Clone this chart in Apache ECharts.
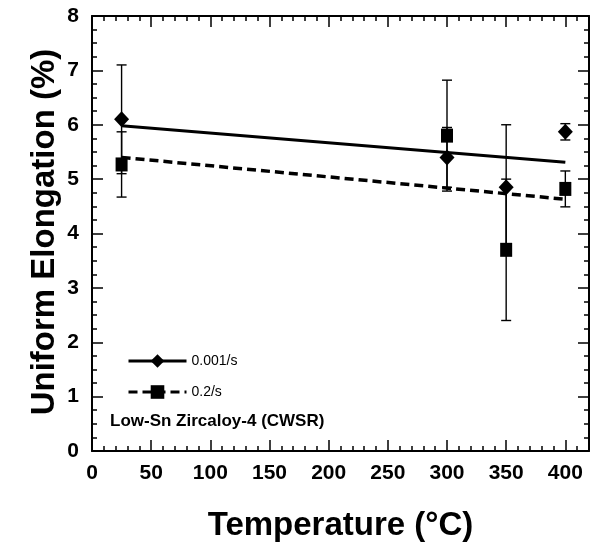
<!DOCTYPE html>
<html>
<head>
<meta charset="utf-8">
<script src="https://cdn.jsdelivr.net/npm/echarts@6/dist/echarts.min.js"></script>
<style>
  html, body { margin: 0; padding: 0; background: #fff; }
  #chart { width: 592px; height: 547px; }
</style>
</head>
<body>
<div id="chart"></div>
<script>
// ---- Data ----
const tempsSlow = [25, 300, 350, 400];          // °C, strain rate 0.001/s
const ueSlow    = [6.1, 5.4, 4.85, 5.87];       // uniform elongation (%)
const errSlow   = [1.0, 0.55, 1.15, 0.15];      // +/- error

const tempsFast = [25, 300, 350, 400];          // °C, strain rate 0.2/s
const ueFast    = [5.27, 5.8, 3.7, 4.82];
const errFast   = [0.6, 1.02, 1.3, 0.33];

const fitTemps  = [25, 400];                     // fitted trend lines
const fitSlow   = [5.98, 5.31];
const fitFast   = [5.4, 4.63];

const seriesNames = ['0.001/s', '0.2/s'];
const xTitle = 'Temperature (°C)';
const yTitle = 'Uniform Elongation (%)';
const note = 'Low-Sn Zircaloy-4 (CWSR)';

const FONT = '"Liberation Sans", Arial, Helvetica, sans-serif';

const zip2 = (a, b) => a.map((v, i) => [v, b[i]]);
const zip3 = (a, b, c) => a.map((v, i) => [v, b[i], c[i]]);

function errorBarRender(params, api) {
  const x = api.value(0), y = api.value(1), e = api.value(2);
  const top = api.coord([x, y + e]);
  const bot = api.coord([x, y - e]);
  const hw = 5;
  const style = { stroke: '#000', lineWidth: 1.4 };
  return {
    type: 'group',
    children: [
      { type: 'line', shape: { x1: top[0], y1: top[1], x2: bot[0], y2: bot[1] }, style },
      { type: 'line', shape: { x1: top[0] - hw, y1: top[1], x2: top[0] + hw, y2: top[1] }, style },
      { type: 'line', shape: { x1: bot[0] - hw, y1: bot[1], x2: bot[0] + hw, y2: bot[1] }, style }
    ]
  };
}

const axisLineStyle = { color: '#000', width: 2 };
const tickStyle = { color: '#000', width: 1.5 };

function xAx(position, interval, tickLen, withLine, withLabel) {
  return {
    type: 'value', position, min: 0, max: 420, interval,
    axisLine: { show: withLine, onZero: false, lineStyle: axisLineStyle },
    axisTick: { show: true, inside: true, length: tickLen, lineStyle: tickStyle },
    axisLabel: withLabel ? {
      show: true, margin: 12, color: '#000', fontSize: 21, fontWeight: 'bold', fontFamily: FONT,
      formatter: v => (v % 50 === 0 ? String(v) : '')
    } : { show: false },
    splitLine: { show: false }
  };
}
function yAx(position, withLabel) {
  return {
    type: 'value', position, min: 0, max: 8, interval: 1,
    axisLine: { show: true, onZero: false, lineStyle: axisLineStyle },
    axisTick: { show: true, inside: true, length: 11, lineStyle: tickStyle },
    minorTick: { show: true, splitNumber: 4, length: 5, lineStyle: tickStyle },
    axisLabel: withLabel ? {
      show: true, margin: 13, color: '#000', fontSize: 21, fontWeight: 'bold', fontFamily: FONT
    } : { show: false },
    splitLine: { show: false }
  };
}

const chart = echarts.init(document.getElementById('chart'), null, { renderer: 'canvas' });
chart.setOption({
  animation: false,
  backgroundColor: '#fff',
  grid: { left: 92, right: 1, top: 16, bottom: 91, containLabel: false },
  xAxis: [
    Object.assign(xAx('bottom', 50, 11, true, true), {
      name: xTitle, nameLocation: 'middle', nameGap: 58,
      nameTextStyle: { color: '#000', fontSize: 33, fontWeight: 'bold', fontFamily: FONT }
    }),
    xAx('bottom', 10, 5, false, false),
    xAx('top', 50, 11, true, false),
    xAx('top', 10, 5, false, false)
  ],
  yAxis: [yAx('left', true), yAx('right', false)],
  legend: {
    data: seriesNames,
    orient: 'vertical',
    left: 122, top: 349,
    itemWidth: 58, itemHeight: 17, itemGap: 17,
    textStyle: { color: '#000', fontSize: 14, fontFamily: FONT },
    lineStyle: { width: 3 },
    selectedMode: false
  },
  graphic: [
    {
      type: 'text', left: 110, top: 413,
      style: { text: note, fill: '#000', font: 'bold 17px ' + FONT }
    },
    {
      type: 'text', x: 45, y: 232, rotation: Math.PI / 2,
      style: { text: yTitle, fill: '#000', font: 'bold 33px ' + FONT, align: 'center', verticalAlign: 'middle' }
    }
  ],
  series: [
    {
      name: seriesNames[0], type: 'line', data: zip2(fitTemps, fitSlow),
      symbol: 'diamond', showSymbol: false, symbolSize: 15,
      lineStyle: { color: '#000', width: 3 }, itemStyle: { color: '#000' }, z: 3
    },
    {
      name: seriesNames[1], type: 'line', data: zip2(fitTemps, fitFast),
      symbol: 'rect', showSymbol: false, symbolSize: 13,
      lineStyle: { color: '#000', width: 3.5, type: [9, 5] }, itemStyle: { color: '#000' }, z: 3
    },
    {
      name: 'errSlow', type: 'custom', renderItem: errorBarRender,
      data: zip3(tempsSlow, ueSlow, errSlow), z: 2, silent: true
    },
    {
      name: 'errFast', type: 'custom', renderItem: errorBarRender,
      data: zip3(tempsFast, ueFast, errFast), z: 2, silent: true
    },
    {
      name: 'ptsSlow', type: 'scatter', data: zip2(tempsSlow, ueSlow),
      symbol: 'diamond', symbolSize: [15, 16], itemStyle: { color: '#000', opacity: 1 }, z: 5
    },
    {
      name: 'ptsFast', type: 'scatter', data: zip2(tempsFast, ueFast),
      symbol: 'rect', symbolSize: [12, 14], itemStyle: { color: '#000', opacity: 1 }, z: 5
    }
  ]
});
</script>
</body>
</html>
